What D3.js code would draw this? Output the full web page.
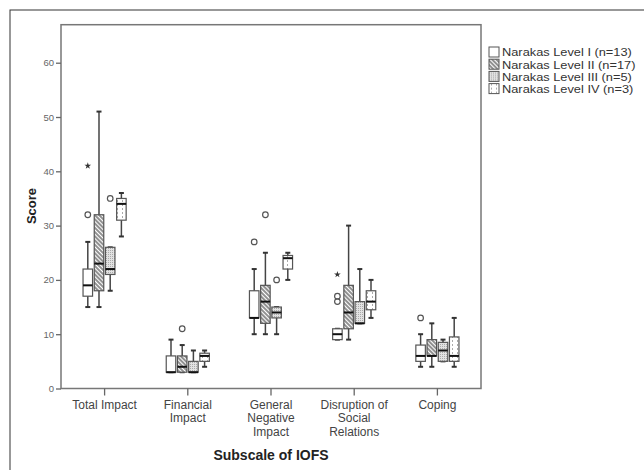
<!DOCTYPE html>
<html>
<head>
<meta charset="utf-8">
<script src="https://cdn.jsdelivr.net/npm/d3@7"></script>
<style>
  body { margin: 0; background: #fff; }
  text { font-family: "Liberation Sans", Arial, sans-serif; }
</style>
</head>
<body>
<svg id="chart" width="644" height="470"></svg>
<script>
// Subscale categories and Narakas levels
var categories = ['Total Impact', 'Financial Impact', 'General Negative Impact',
    'Disruption of Social Relations', 'Coping'];
var categoryLines = [['Total Impact'], ['Financial', 'Impact'], ['General', 'Negative', 'Impact'],
    ['Disruption of', 'Social', 'Relations'], ['Coping']];
var levels = ['Narakas Level I (n=13)', 'Narakas Level II (n=17)',
    'Narakas Level III (n=5)', 'Narakas Level IV (n=3)'];

// [lower whisker, Q1, median, Q3, upper whisker] per category
var levelI   = [[15, 17, 19, 22, 27], [3, 3, 3, 6, 9], [10, 13, 13, 18, 22], [9, 9, 10, 11, 11], [4, 5, 6, 8, 10]];
var levelII  = [[15, 18, 23, 32, 51], [3, 3, 4, 6, 8], [10, 12, 16, 19, 25], [9, 11, 14, 19, 30], [4, 6, 6, 9, 12]];
var levelIII = [[18, 21, 22, 26, 26], [3, 3, 3, 5, 7], [10, 13, 14, 15, 15], [12, 12, 12, 16, 22], [5, 5, 7, 8.5, 9]];
var levelIV  = [[28, 31, 34, 35, 36], [4, 5, 6, 6.5, 7], [20, 22, 24, 24.5, 25], [13, 14.5, 16, 18, 20], [4, 5, 6, 9.5, 13]];

// outliers (circles) and extremes (stars): [category index, level index, value]
var outliers = [[0, 0, 32], [0, 2, 35], [1, 1, 11], [2, 0, 27], [2, 1, 32], [2, 2, 20],
    [3, 0, 17], [3, 0, 16], [4, 0, 13]];
var extremes = [[0, 0, 41], [3, 0, 21]];

var yTicks = [0, 10, 20, 30, 40, 50, 60];

var stats = [levelI, levelII, levelIII, levelIV];

var svg = d3.select('#chart');
var plot = {l: 61, r: 481, t: 24.7, b: 388.5};

var x = d3.scaleBand()
    .domain(categories)
    .range([plot.l, plot.r])
    .paddingInner(0)
    .paddingOuter(0.024);

var xSub = d3.scaleBand()
    .domain(levels)
    .range([-22.4, 22.4])
    .paddingInner(0.15)
    .paddingOuter(0.075);

var y = d3.scaleLinear()
    .domain([0, 67])
    .range([plot.b, plot.t]);

// patterns for the fills
var defs = svg.append('defs');
var hatch = defs.append('pattern')
    .attr('id', 'hatch')
    .attr('patternUnits', 'userSpaceOnUse')
    .attr('width', 3).attr('height', 3)
    .attr('patternTransform', 'rotate(45)');
hatch.append('rect').attr('width', 3).attr('height', 3).attr('fill', '#fff');
hatch.append('line').attr('x1', 0).attr('y1', 1).attr('x2', 3).attr('y2', 1)
    .attr('stroke', '#555').attr('stroke-width', 1.3);

var dots = defs.append('pattern')
    .attr('id', 'dots')
    .attr('patternUnits', 'userSpaceOnUse')
    .attr('width', 2).attr('height', 2);
dots.append('rect').attr('width', 2).attr('height', 2).attr('fill', '#e2e2e2');
dots.append('rect').attr('width', 1).attr('height', 1).attr('fill', '#aaa');

var dashes = defs.append('pattern')
    .attr('id', 'dashes')
    .attr('patternUnits', 'userSpaceOnUse')
    .attr('width', 5).attr('height', 4);
dashes.append('rect').attr('width', 5).attr('height', 4).attr('fill', '#fff');
dashes.append('rect').attr('x', 2).attr('y', 0).attr('width', 1).attr('height', 2).attr('fill', '#aaa');

var fills = ['#fff', 'url(#hatch)', 'url(#dots)', 'url(#dashes)'];

// outer frame
svg.append('rect')
    .attr('x', 10).attr('y', 10)
    .attr('width', 700).attr('height', 500)
    .attr('fill', 'none')
    .attr('stroke', '#333')
    .attr('stroke-width', 1);

// plot frame
svg.append('rect')
    .attr('x', plot.l).attr('y', plot.t)
    .attr('width', plot.r - plot.l).attr('height', plot.b - plot.t)
    .attr('fill', '#fff')
    .attr('stroke', '#777')
    .attr('stroke-width', 1.5);

// y axis
var yAxis = svg.append('g')
    .attr('transform', 'translate(' + plot.l + ',0)')
    .call(d3.axisLeft(y).tickValues(yTicks).tickSize(5).tickPadding(2));
yAxis.select('.domain').remove();
yAxis.selectAll('line').attr('stroke', '#666').attr('stroke-width', 1.3);
yAxis.selectAll('text').attr('fill', '#666').style('font-size', '9.5px');

// x axis
var xAxis = svg.append('g')
    .attr('transform', 'translate(0,' + plot.b + ')')
    .call(d3.axisBottom(x).tickSize(7).tickFormat(''));
xAxis.select('.domain').remove();
xAxis.selectAll('line').attr('stroke', '#666').attr('stroke-width', 1.3);

svg.append('g').selectAll('text')
    .data(categories)
    .enter().append('text')
    .attr('x', function(d) { return x(d) + x.bandwidth() / 2; })
    .attr('y', 409)
    .attr('text-anchor', 'middle')
    .attr('fill', '#444')
    .style('font-size', '12px')
    .each(function(d, i) {
        var t = d3.select(this);
        categoryLines[i].forEach(function(line, j) {
            t.append('tspan')
                .attr('x', x(d) + x.bandwidth() / 2)
                .attr('dy', j === 0 ? 0 : 13.3)
                .text(line);
        });
    });

// axis titles
svg.append('text')
    .attr('transform', 'translate(' + [36, 206] + ') rotate(-90)')
    .attr('text-anchor', 'middle')
    .attr('fill', '#222')
    .style('font-size', '13px')
    .style('font-weight', 'bold')
    .text('Score');

svg.append('text')
    .attr('x', (plot.l + plot.r) / 2)
    .attr('y', 460)
    .attr('text-anchor', 'middle')
    .attr('fill', '#222')
    .style('font-size', '14px')
    .style('font-weight', 'bold')
    .text('Subscale of IOFS');

// boxes
var boxData = [];
stats.forEach(function(levelStats, li) {
    levelStats.forEach(function(s, ci) {
        boxData.push({cat: categories[ci], level: levels[li], li: li, s: s});
    });
});

var boxW = xSub.bandwidth();
function cx(d) { return x(d.cat) + x.bandwidth() / 2 + xSub(d.level) + boxW / 2; }

var boxes = svg.append('g').selectAll('.box')
    .data(boxData)
    .enter().append('g')
    .attr('class', 'box');

// whiskers
boxes.append('line')
    .attr('x1', cx).attr('x2', cx)
    .attr('y1', function(d) { return y(d.s[0]); })
    .attr('y2', function(d) { return y(d.s[4]); })
    .attr('stroke', '#444').attr('stroke-width', 1.5);

boxes.selectAll('.cap')
    .data(function(d) { return [{d: d, v: d.s[0]}, {d: d, v: d.s[4]}]; })
    .enter().append('line')
    .attr('x1', function(c) { return cx(c.d) - 2.5; })
    .attr('x2', function(c) { return cx(c.d) + 2.5; })
    .attr('y1', function(c) { return y(c.v); })
    .attr('y2', function(c) { return y(c.v); })
    .attr('stroke', '#333').attr('stroke-width', 2);

boxes.append('rect')
    .attr('x', function(d) { return cx(d) - boxW / 2; })
    .attr('y', function(d) { return y(d.s[3]); })
    .attr('width', boxW)
    .attr('height', function(d) { return y(d.s[1]) - y(d.s[3]); })
    .attr('fill', function(d) { return fills[d.li]; })
    .attr('stroke', '#555').attr('stroke-width', 1.2);

boxes.append('line')
    .attr('x1', function(d) { return cx(d) - boxW / 2; })
    .attr('x2', function(d) { return cx(d) + boxW / 2; })
    .attr('y1', function(d) { return y(d.s[2]); })
    .attr('y2', function(d) { return y(d.s[2]); })
    .attr('stroke', '#111').attr('stroke-width', 2);

// outliers
function px(o) { return x(categories[o[0]]) + x.bandwidth() / 2 + xSub(levels[o[1]]) + boxW / 2; }

svg.append('g').selectAll('circle')
    .data(outliers)
    .enter().append('circle')
    .attr('cx', px)
    .attr('cy', function(o) { return y(o[2]); })
    .attr('r', 2.8)
    .attr('fill', 'none')
    .attr('stroke', '#555').attr('stroke-width', 1.2);

svg.append('g').selectAll('path')
    .data(extremes)
    .enter().append('path')
    .attr('transform', function(o) { return 'translate(' + [px(o), y(o[2])] + ')'; })
    .attr('d', d3.symbol().type(d3.symbolStar).size(14))
    .attr('fill', '#333');

// legend
var legend = svg.append('g').selectAll('.legend')
    .data(levels)
    .enter().append('g')
    .attr('class', 'legend')
    .attr('transform', function(d, i) { return 'translate(' + [489, 47 + i * 12.2] + ')'; });

legend.append('rect')
    .attr('width', 10).attr('height', 10)
    .attr('fill', function(d, i) { return fills[i]; })
    .attr('stroke', '#555').attr('stroke-width', 1);

legend.append('text')
    .attr('transform', 'translate(13,9.3) scale(1.22,1)')
    .attr('fill', '#333')
    .style('font-size', '10.5px')
    .text(function(d) { return d; });
</script>
</body>
</html>
